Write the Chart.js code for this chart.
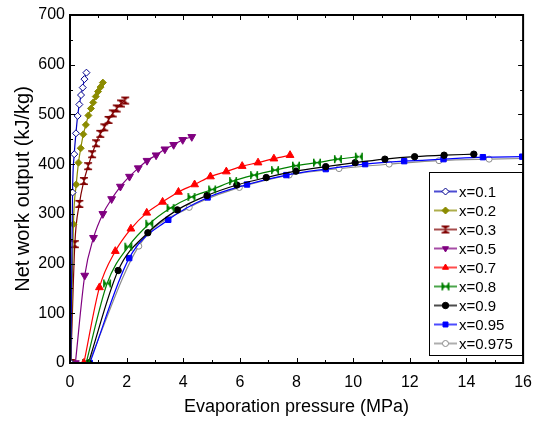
<!DOCTYPE html>
<html><head><meta charset="utf-8">
<script src="https://cdn.jsdelivr.net/npm/chart.js@4.4.0/dist/chart.umd.min.js"></script>
<style>html,body{margin:0;padding:0;background:#fff}#wrap{width:542px;height:421px;position:relative}</style>
</head><body><div id="wrap"><canvas id="c" width="542" height="421"></canvas></div>
<script>
// ---- data ----
const seriesLabels = ['x=0.1','x=0.2','x=0.3','x=0.5','x=0.7','x=0.8','x=0.9','x=0.95','x=0.975'];

const p01 = [0.03,0.09,0.15,0.21,0.27,0.33,0.39,0.45,0.51,0.58];
const w01 = [0,343,420,462,497,520,539,554,571,584];

const p02 = [0.03,0.12,0.22,0.30,0.38,0.47,0.56,0.65,0.74,0.82,0.91,0.99,1.08,1.16];
const w02 = [0,279,359,403,432,460,479,498,512,524,536,546,555,564];

const p03 = [0.03,0.17,0.33,0.49,0.64,0.78,0.92,1.07,1.21,1.36,1.51,1.65,1.80,1.95];
const w03 = [0,239,320,366,396,420,442,461,474,489,502,512,522,528];

const p05 = [0.19,0.52,0.83,1.16,1.47,1.78,2.10,2.41,2.72,3.04,3.35,3.66,3.98,4.30];
const w05 = [0,176,252,300,330,355,375,392,407,418,430,439,449,455];

const p07 = [0.49,1.04,1.60,2.15,2.71,3.27,3.83,4.40,4.96,5.52,6.08,6.64,7.20,7.77];
const w07 = [0,152,225,270,302,324,344,359,375,385,396,403,411,418];

const p08 = [0.57,1.31,2.06,2.80,3.55,4.29,5.02,5.76,6.50,7.24,7.98,8.72,9.46,10.2];
const w08 = [0,160,234,280,312,334,349,366,378,388,397,403,410,415];

const p09 = [0.65,1.70,2.75,3.79,4.84,5.89,6.93,7.98,9.03,10.07,11.12,12.17,13.21,14.26];
const w09 = [0,186,262,308,337,358,373,386,395,403,410,415,418,420];

const p095 = [0.70,2.09,3.47,4.86,6.25,7.64,9.03,10.42,11.80,13.19,14.58,15.97];
const w095 = [0,211,288,333,359,378,390,400,406,410,414,415];

const p0975 = [0.66,2.43,4.21,5.98,7.74,9.50,11.27,13.03,14.80,16.56];
const w0975 = [0,235,313,353,378,391,400,407,410,412];

const xTicks = [0,2,4,6,8,10,12,14,16];
const yTicks = [0,100,200,300,400,500,600,700];

// ---- marker images ----
function hourglass(color, r){
  const s = 2*r+2, c = document.createElement('canvas'); c.width = c.height = s;
  const g = c.getContext('2d'), m = s/2; g.fillStyle = color;
  g.beginPath(); g.moveTo(m-r,m-r); g.lineTo(m+r,m-r); g.lineTo(m,m); g.closePath(); g.fill();
  g.beginPath(); g.moveTo(m-r,m+r); g.lineTo(m+r,m+r); g.lineTo(m,m); g.closePath(); g.fill();
  g.fillRect(m-r, m-r, 2*r, 1.5); g.fillRect(m-r, m+r-1.5, 2*r, 1.5);
  return c;
}
function bowtie(color, r){
  const s = 2*r+2, c = document.createElement('canvas'); c.width = c.height = s;
  const g = c.getContext('2d'), m = s/2; g.fillStyle = color;
  g.beginPath(); g.moveTo(m-r,m-r); g.lineTo(m-r,m+r); g.lineTo(m,m); g.closePath(); g.fill();
  g.beginPath(); g.moveTo(m+r,m-r); g.lineTo(m+r,m+r); g.lineTo(m,m); g.closePath(); g.fill();
  g.fillRect(m-r, m-r, 1.5, 2*r); g.fillRect(m+r-1.5, m-r, 1.5, 2*r);
  return c;
}

function pts(xs, ys){ return xs.map((x,i)=>({x:x, y:ys[i]})); }

const styles = [
  {line:'#0000C0', border:'#00008B', fill:'#FFFFFF', ps:'rectRot', r:3.5, rot:0},
  {line:'#8B8B00', border:'#8B8B00', fill:'#8B8B00', ps:'rectRot', r:3.5, rot:0},
  {line:'#800000', border:'#800000', fill:'#800000', ps:hourglass('#800000',4), r:4, rot:0},
  {line:'#800080', border:'#800080', fill:'#800080', ps:'triangle', r:4.5, rot:180},
  {line:'#FF0000', border:'#FF0000', fill:'#FF0000', ps:'triangle', r:4.5, rot:0},
  {line:'#008000', border:'#008000', fill:'#008000', ps:bowtie('#008000',4), r:4, rot:0},
  {line:'#000000', border:'#000000', fill:'#000000', ps:'circle', r:3.2, rot:0},
  {line:'#0000FF', border:'#0000FF', fill:'#0000FF', ps:'rect', r:3.8, rot:0},
  {line:'#8C8C8C', border:'#8C8C8C', fill:'#FFFFFF', ps:'circle', r:3, rot:0}
];
const dataSets = [pts(p01,w01),pts(p02,w02),pts(p03,w03),pts(p05,w05),pts(p07,w07),pts(p08,w08),pts(p09,w09),pts(p095,w095),pts(p0975,w0975)];

const datasets = dataSets.map((d,i)=>({
  label: seriesLabels[i],
  data: d,
  borderColor: styles[i].line,
  borderWidth: 1.2,
  pointStyle: styles[i].ps,
  pointRadius: styles[i].r,
  pointRotation: styles[i].rot,
  pointBackgroundColor: styles[i].fill,
  pointBorderColor: styles[i].border,
  pointBorderWidth: 1,
  cubicInterpolationMode: 'monotone',
  fill: false
}));

const FONT = "'Liberation Sans', Arial, sans-serif";

const framePlugin = {
  id: 'frame',
  afterDatasetsDraw(chart){
    const {ctx, chartArea:a, scales:{x, y}} = chart;
    ctx.save();
    ctx.strokeStyle = '#000'; ctx.lineWidth = 1;
    for (let v = 0; v <= 16; v += 1){
      const px = Math.round(x.getPixelForValue(v)) + 0.5;
      const L = (v % 2 === 0) ? 5 : 3;
      ctx.beginPath(); ctx.moveTo(px, a.bottom); ctx.lineTo(px, a.bottom - L);
      ctx.moveTo(px, a.top); ctx.lineTo(px, a.top + L); ctx.stroke();
    }
    for (let v = 0; v <= 700; v += 50){
      const py = Math.round(y.getPixelForValue(v)) + 0.5;
      const L = (v % 100 === 0) ? 5 : 3;
      ctx.beginPath(); ctx.moveTo(a.left, py); ctx.lineTo(a.left + L, py);
      ctx.moveTo(a.right, py); ctx.lineTo(a.right - L, py); ctx.stroke();
    }
    ctx.lineWidth = 2;
    ctx.strokeRect(a.left, a.top, a.right - a.left, a.bottom - a.top);
    ctx.restore();
  }
};

const legendPlugin = {
  id: 'boxLegend',
  afterDraw(chart){
    const ctx = chart.ctx;
    const bx = 429, by = 172, bw = 93, bh = 183;
    ctx.save();
    ctx.fillStyle = '#fff'; ctx.fillRect(bx, by, bw, bh);
    ctx.strokeStyle = '#000'; ctx.lineWidth = 1;
    ctx.strokeRect(bx + 0.5, by + 0.5, bw, bh);
    ctx.font = '15px ' + FONT; ctx.textBaseline = 'middle'; ctx.textAlign = 'left';
    chart.data.datasets.forEach((ds, i) => {
      const yy = 191.5 + i * 19;
      ctx.save();
      ctx.globalAlpha = 0.7; ctx.strokeStyle = ds.borderColor; ctx.lineWidth = 2;
      ctx.beginPath(); ctx.moveTo(434, yy); ctx.lineTo(457, yy); ctx.stroke();
      ctx.restore();
      ctx.fillStyle = ds.pointBackgroundColor; ctx.strokeStyle = ds.pointBorderColor; ctx.lineWidth = 1;
      Chart.helpers.drawPoint(ctx, {pointStyle: ds.pointStyle, rotation: ds.pointRotation, radius: Math.min(ds.pointRadius, 3.5), borderWidth: 1}, 445.5, yy);
      ctx.fillStyle = '#000';
      ctx.fillText(ds.label, 459, yy + 1);
    });
    ctx.restore();
  }
};

new Chart(document.getElementById('c'), {
  type: 'line',
  data: { datasets },
  options: {
    responsive: false,
    animation: false,
    layout: { padding: { top: 15, right: 12, left: 0, bottom: 0 } },
    plugins: { legend: { display: false }, tooltip: { enabled: false } },
    scales: {
      x: {
        type: 'linear', min: 0, max: 16,
        afterBuildTicks: (s) => { s.ticks = xTicks.map(v => ({value: v})); },
        grid: { display: false, drawTicks: false },
        border: { display: false },
        ticks: { color: '#000', font: { family: FONT, size: 16 }, padding: 10, maxRotation: 0, autoSkip: false },
        title: { display: true, text: 'Evaporation pressure (MPa)', color: '#000', font: { family: FONT, size: 18 }, padding: { top: 0, bottom: 3 } },
        afterFit: (s) => { s.height = 58; }
      },
      y: {
        type: 'linear', min: 0, max: 700,
        afterBuildTicks: (s) => { s.ticks = yTicks.map(v => ({value: v})); },
        grid: { display: false, drawTicks: false },
        border: { display: false },
        ticks: { color: '#000', font: { family: FONT, size: 16 }, padding: 5, autoSkip: false },
        title: { display: true, text: 'Net work output (kJ/kg)', color: '#000', font: { family: FONT, size: 20 }, padding: { top: 11, bottom: 0 } },
        afterFit: (s) => { s.width = 70; }
      }
    }
  },
  plugins: [framePlugin, legendPlugin]
});
</script>
</body></html>
